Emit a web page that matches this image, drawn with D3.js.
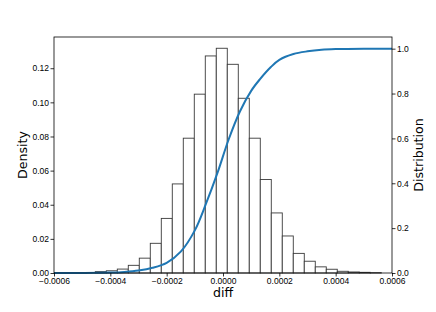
<!DOCTYPE html>
<html lang="en">
<head>
<meta charset="UTF-8">
<title>diff histogram</title>
<script src="https://d3js.org/d3.v7.min.js"></script>
<style>
    body { margin: 0; background: #fff; }
    svg { display: block; font-family: "DejaVu Sans", sans-serif; }
    .axis text { font-size: 8.5px; fill: #000; }
    .axis path, .axis line { stroke: #000; stroke-width: 0.8; }
    .label { font-size: 12.6px; fill: #000; }
</style>
</head>
<body>
<svg id="chart"></svg>
<script>
    // histogram: uniform bins starting at binStart, width binWidth
    const binStart = -0.0004534;
    const binWidth = 0.00003905;
    const density = [0.0008, 0.0013, 0.0023, 0.0045, 0.0087, 0.0174, 0.032, 0.0522,
        0.079, 0.1048, 0.1272, 0.1317, 0.1223, 0.1024, 0.079, 0.0548, 0.0352,
        0.0217, 0.0115, 0.0069, 0.0036, 0.0022, 0.001, 0.0006, 0.0004, 0.0002];

    // distribution curve
    const cdfX = [-0.0006, -0.0005, -0.0004, -0.00035, -0.0003, -0.00025, -0.0002,
        -0.00015, -0.0001, -0.00006, -0.00002, 0.00002, 0.00006, 0.0001, 0.00013,
        0.00017, 0.0002, 0.00025, 0.0003, 0.00035, 0.0004, 0.0005, 0.0006];
    const cdfY = [0, 0.0003, 0.002, 0.005, 0.011, 0.023, 0.045, 0.095, 0.19, 0.31,
        0.445, 0.595, 0.72, 0.812, 0.862, 0.918, 0.95, 0.976, 0.988, 0.995, 0.998, 1.0, 1.0];

    const xTicks = [-0.0006, -0.0004, -0.0002, 0, 0.0002, 0.0004, 0.0006];
    const leftTicks = [0, 0.02, 0.04, 0.06, 0.08, 0.10, 0.12];
    const rightTicks = [0, 0.2, 0.4, 0.6, 0.8, 1.0];

    const W = 436, H = 312;
    const m = {top: 37, right: 44, bottom: 39, left: 54};
    const w = W - m.left - m.right, h = H - m.top - m.bottom;

    const svg = d3.select('#chart').attr('width', W).attr('height', H);
    const g = svg.append('g').attr('transform', `translate(${m.left},${m.top})`);

    const x = d3.scaleLinear().domain([-0.0006, 0.0006]).range([0, w]);
    const yL = d3.scaleLinear().domain([0, 0.1383]).range([h, 0]);
    const yR = d3.scaleLinear().domain([0, 1.052]).range([h, 0]);

    const bins = density.map((d, i) => ({
        x0: binStart + i * binWidth,
        x1: binStart + (i + 1) * binWidth,
        v: d
    }));

    g.selectAll('rect.bar')
        .data(bins)
        .enter()
        .append('rect')
        .attr('class', 'bar')
        .attr('x', d => x(d.x0))
        .attr('y', d => yL(d.v))
        .attr('width', d => x(d.x1) - x(d.x0))
        .attr('height', d => h - yL(d.v))
        .attr('fill', '#fff')
        .attr('stroke', '#3a3a3a')
        .attr('stroke-width', 0.9);

    const line = d3.line()
        .x((d, i) => x(cdfX[i]))
        .y(d => yR(d))
        .curve(d3.curveCatmullRom.alpha(0.5));

    g.append('path')
        .datum(cdfY)
        .attr('d', line)
        .attr('fill', 'none')
        .attr('stroke', '#1f77b4')
        .attr('stroke-width', 2);

    // frame
    g.append('rect')
        .attr('width', w).attr('height', h)
        .attr('fill', 'none')
        .attr('stroke', '#000')
        .attr('stroke-width', 0.8);

    g.append('g')
        .attr('class', 'axis')
        .attr('transform', `translate(0,${h})`)
        .call(d3.axisBottom(x).tickValues(xTicks).tickFormat(d3.format('.4f')).tickSize(3.5).tickPadding(1.5))
        .call(a => a.select('.domain').remove());

    g.append('g')
        .attr('class', 'axis')
        .call(d3.axisLeft(yL).tickValues(leftTicks).tickFormat(d3.format('.2f')).tickSize(3.5).tickPadding(1.5))
        .call(a => a.select('.domain').remove());

    g.append('g')
        .attr('class', 'axis')
        .attr('transform', `translate(${w},0)`)
        .call(d3.axisRight(yR).tickValues(rightTicks).tickFormat(d3.format('.1f')).tickSize(3.5).tickPadding(1.5))
        .call(a => a.select('.domain').remove());

    svg.append('text')
        .attr('class', 'label')
        .attr('x', m.left + w / 2)
        .attr('y', 297)
        .attr('text-anchor', 'middle')
        .text('diff');

    svg.append('text')
        .attr('class', 'label')
        .attr('transform', 'translate(27,155) rotate(-90)')
        .attr('text-anchor', 'middle')
        .text('Density');

    svg.append('text')
        .attr('class', 'label')
        .attr('transform', 'translate(423,155) rotate(-90)')
        .attr('text-anchor', 'middle')
        .text('Distribution');
</script>
</body>
</html>
